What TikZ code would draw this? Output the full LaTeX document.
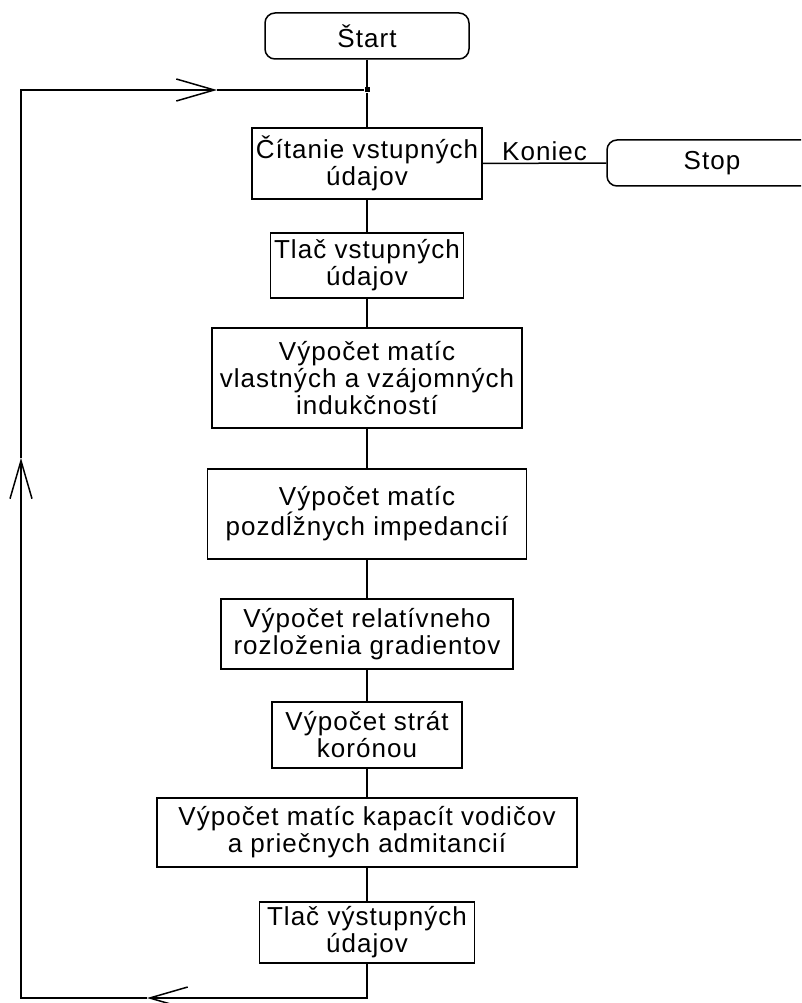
\documentclass[tikz,border=0pt]{standalone}
\usepackage{fontspec}
\setmainfont{Liberation Sans}
\newfontfamily\blokfont[LetterSpace=4]{Liberation Sans}
\usepackage{tikz}
\usetikzlibrary{arrows.meta}

\begin{document}
\begin{tikzpicture}[
    x=1pt, y=-1pt,
    line width=1.5pt,
    every node/.style={font=\blokfont\fontsize{26}{27}\selectfont, align=center, inner sep=0pt},
    blok/.style={rectangle, draw},
    terminal/.style={rectangle, draw, rounded corners=10pt},
    popis/.style={draw=none, inner sep=2pt},
    bod/.style={rectangle, fill, minimum size=5pt},
    sipka/.style={-{Straight Barb[length=38pt,width=22pt]}},
  ]
  \clip (0,0) rectangle (801,1003);

  % Start and stop
  \node[terminal, minimum width=204pt, minimum height=46pt] (start) at (367,36) {Štart};
  \node[terminal, minimum width=210pt, minimum height=46pt] (stop) at (712,163) {Stop};

  % Main column (top to bottom)
  \node[blok, minimum width=230pt, minimum height=71pt]  (b1) at (367,163.5) {Čítanie vstupných\\údajov};
  \node[blok, minimum width=193pt, minimum height=65pt]  (b2) at (367,265.5) {Tlač vstupných\\údajov};
  \node[blok, minimum width=310pt, minimum height=100pt] (b3) at (367,378)   {Výpočet matíc\\vlastných a vzájomných\\indukčností};
  \node[blok, minimum width=319pt, minimum height=90pt]  (b4) at (367,514)   {Výpočet matíc\\pozdĺžnych impedancií};
  \node[blok, minimum width=292pt, minimum height=70pt]  (b5) at (367,634)   {Výpočet relatívneho\\rozloženia gradientov};
  \node[blok, minimum width=190pt, minimum height=66pt]  (b6) at (367,735)   {Výpočet strát\\korónou};
  \node[blok, minimum width=420pt, minimum height=69pt]  (b7) at (367,832.5) {Výpočet matíc kapacít vodičov\\a priečnych admitancií};
  \node[blok, minimum width=215pt, minimum height=61pt]  (b8) at (367,932.5) {Tlač výstupných\\údajov};

  % Loop corners
  \node[bod] (spoj) at (367,90) {};
  \coordinate (dolny)  at (367,998);
  \coordinate (ldolny) at (21,998);
  \coordinate (lhorny) at (21,90);
  \coordinate (sipka1) at (147,998);
  \coordinate (sipka2) at (21,458);
  \coordinate (sipka3) at (217,90);

  % Column edges
  \draw (start) -- (spoj) -- (b1);
  \draw (b1) -- (b2);
  \draw (b2) -- (b3);
  \draw (b3) -- (b4);
  \draw (b4) -- (b5);
  \draw (b5) -- (b6);
  \draw (b6) -- (b7);
  \draw (b7) -- (b8);
  \draw (b1) -- node[popis, above] {Koniec} (stop);

  % Back loop
  \draw[sipka] (b8) -- (dolny) -- (sipka1);
  \draw[sipka] (sipka1) -- (ldolny) -- (sipka2);
  \draw[sipka] (sipka2) -- (lhorny) -- (sipka3);
  \draw (sipka3) -- (spoj);

\end{tikzpicture}
\end{document}
